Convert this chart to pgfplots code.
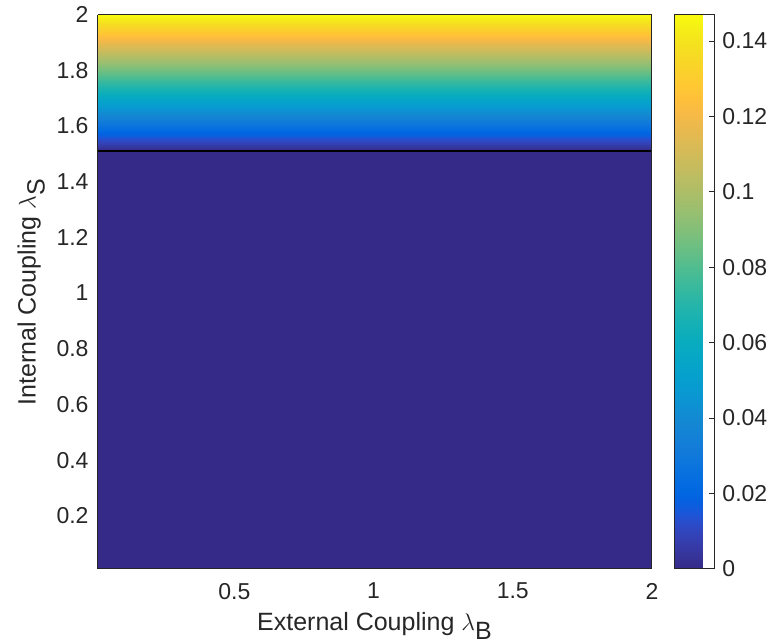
\documentclass[border=0pt]{standalone}
\usepackage{fontspec}
\setmainfont{Liberation Sans}
\usepackage{pgfplots}
\usepackage{pgfplotstable}
\pgfplotsset{compat=1.18}

\definecolor{axgray}{rgb}{0.15,0.15,0.15}

\pgfplotsset{
  colormap={parula}{
    rgb=(0.2081,0.1663,0.5292) rgb=(0.2116,0.1898,0.5777) rgb=(0.2123,0.2138,0.6270) rgb=(0.2081,0.2386,0.6771)
    rgb=(0.1959,0.2645,0.7279) rgb=(0.1707,0.2919,0.7792) rgb=(0.1253,0.3242,0.8303) rgb=(0.0591,0.3598,0.8683)
    rgb=(0.0117,0.3875,0.8820) rgb=(0.0060,0.4086,0.8828) rgb=(0.0165,0.4266,0.8786) rgb=(0.0329,0.4430,0.8720)
    rgb=(0.0498,0.4586,0.8641) rgb=(0.0629,0.4737,0.8554) rgb=(0.0723,0.4887,0.8467) rgb=(0.0779,0.5040,0.8384)
    rgb=(0.0793,0.5200,0.8312) rgb=(0.0749,0.5375,0.8263) rgb=(0.0641,0.5570,0.8240) rgb=(0.0488,0.5772,0.8228)
    rgb=(0.0343,0.5966,0.8199) rgb=(0.0265,0.6137,0.8135) rgb=(0.0239,0.6287,0.8038) rgb=(0.0231,0.6418,0.7913)
    rgb=(0.0228,0.6535,0.7768) rgb=(0.0267,0.6642,0.7607) rgb=(0.0384,0.6743,0.7436) rgb=(0.0590,0.6838,0.7254)
    rgb=(0.0843,0.6928,0.7062) rgb=(0.1133,0.7015,0.6859) rgb=(0.1453,0.7098,0.6646) rgb=(0.1801,0.7177,0.6424)
    rgb=(0.2178,0.7250,0.6193) rgb=(0.2586,0.7317,0.5954) rgb=(0.3022,0.7376,0.5712) rgb=(0.3482,0.7424,0.5473)
    rgb=(0.3953,0.7459,0.5244) rgb=(0.4420,0.7481,0.5033) rgb=(0.4871,0.7491,0.4840) rgb=(0.5300,0.7491,0.4661)
    rgb=(0.5709,0.7485,0.4494) rgb=(0.6099,0.7473,0.4337) rgb=(0.6473,0.7456,0.4188) rgb=(0.6834,0.7435,0.4044)
    rgb=(0.7184,0.7411,0.3905) rgb=(0.7525,0.7384,0.3768) rgb=(0.7858,0.7356,0.3633) rgb=(0.8185,0.7327,0.3498)
    rgb=(0.8507,0.7299,0.3360) rgb=(0.8824,0.7274,0.3217) rgb=(0.9139,0.7258,0.3063) rgb=(0.9450,0.7261,0.2886)
    rgb=(0.9739,0.7314,0.2666) rgb=(0.9938,0.7455,0.2403) rgb=(0.9990,0.7653,0.2164) rgb=(0.9955,0.7861,0.1967)
    rgb=(0.9880,0.8066,0.1794) rgb=(0.9789,0.8271,0.1633) rgb=(0.9697,0.8481,0.1475) rgb=(0.9626,0.8705,0.1309)
    rgb=(0.9589,0.8949,0.1132) rgb=(0.9598,0.9218,0.0948) rgb=(0.9661,0.9514,0.0755) rgb=(0.9763,0.9831,0.0538)
  }
}

% order parameter over (lambda_B, lambda_S); zero below the transition
\pgfplotstableread{
x     y     z
0.01  0.01  0
2.00  0.01  0
0.01  1.51  0
2.00  1.51  0
0.01  1.55  0.012
2.00  1.55  0.012
0.01  1.60  0.027
2.00  1.60  0.027
0.01  1.65  0.042
2.00  1.65  0.042
0.01  1.70  0.057
2.00  1.70  0.057
0.01  1.75  0.072
2.00  1.75  0.072
0.01  1.80  0.087
2.00  1.80  0.087
0.01  1.85  0.102
2.00  1.85  0.102
0.01  1.90  0.117
2.00  1.90  0.117
0.01  1.95  0.132
2.00  1.95  0.132
0.01  2.00  0.147
2.00  2.00  0.147
}\orderdata

\begin{document}
\begin{tikzpicture}
\begin{axis}[
    name=main,
    view={0}{90},
    scale only axis,
    width=277pt,
    height=277pt,
    xmin=0.01, xmax=2,
    ymin=0.01, ymax=2,
    xtick={0.5,1,1.5,2},
    ytick={0.2,0.4,...,2.01},
    axis on top,
    major tick length=0pt,
    xtick pos=left, ytick pos=left,
    axis line style={axgray, line width=0.5pt},
    ticklabel style={font=\fontsize{11.5}{13}\selectfont, text=axgray},
    xticklabel style={yshift=-3.7pt},
    yticklabel style={xshift=-1.2pt},
    label style={font=\fontsize{12.5}{14}\selectfont, text=axgray, inner sep=0pt},
    /pgf/number format/assume math mode=true,
    xlabel={External Coupling $\lambda_{\mbox{\fontsize{12.5}{14}\selectfont B}}$},
    ylabel={Internal Coupling $\lambda_{\mbox{\fontsize{12.5}{14}\selectfont S}}$},
    xlabel style={at={(axis description cs:0.5,-0.0780)}, anchor=north},
    ylabel style={at={(axis description cs:-0.1462,0.5)}, anchor=north},
    colormap name=parula,
    point meta min=0, point meta max=0.147,
    colorbar,
    colorbar style={
        at={(parent axis.north east)},
        anchor=north west,
        xshift=2.7pt,
        width=20pt,
        height=277pt,
        ytick={0,0.02,...,0.141},
        scaled y ticks=false,
        yticklabel style={/pgf/number format/fixed, /pgf/number format/precision=2,
            font=\fontsize{11.5}{13}\selectfont, text=axgray, inner sep=1pt, xshift=2.8pt},
        /pgf/number format/assume math mode=true,
        tick align=inside,
        major tick length=2.5pt,
        ytick pos=right,
        yticklabel pos=right,
        tick style={axgray, line width=0.4pt},
        axis line style={axgray, line width=0.5pt},
    },
]
\addplot3[surf, shader=interp, mesh/cols=2] table[x=x, y=y, z=z, meta=z] {\orderdata};
\addplot3[black, line width=0.9pt] coordinates {(0.01,1.51,0.147) (2,1.51,0.147)};
\end{axis}
\path ([shift={(-49pt,-36.5pt)}]main.south west) rectangle ([shift={(61pt,6pt)}]main.north east);
\end{tikzpicture}
\end{document}
